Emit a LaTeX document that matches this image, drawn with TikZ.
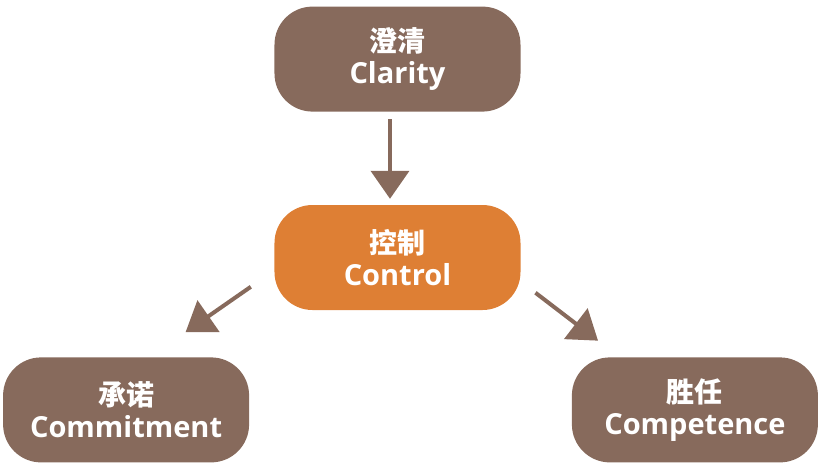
\documentclass[tikz,border=0pt]{standalone}
\usepackage{fontspec}
\setmainfont{Open Sans}
\newfontfamily\cjk{Noto Sans CJK SC}
\usepackage{tikz}
\usetikzlibrary{positioning,arrows.meta}
\definecolor{stagebrown}{RGB}{135,106,92}
\definecolor{coreorange}{RGB}{222,127,52}

\begin{document}
\begin{tikzpicture}[
stage/.style={rectangle, rounded corners=38pt, fill=stagebrown, text=white, minimum width=246pt, minimum height=105pt, inner sep=0pt, align=center, font=\bfseries\fontsize{29}{32}\selectfont},
core/.style={stage, fill=coreorange},
flow/.style={draw=stagebrown, line width=4pt, -{Triangle[length=28pt,width=38pt]}},
]
\useasboundingbox (-397.5pt,-211.5pt) rectangle (424.5pt,257.5pt);

\node[core] (control) {{\cjk\bfseries\fontsize{28}{32}\selectfont 控制}\\Control};
\node[stage] (clarity) [above=93pt of control] {{\cjk\bfseries\fontsize{28}{32}\selectfont 澄清}\\Clarity};
\node[stage] (commitment) [below left=47pt and 25pt of control] {{\cjk\bfseries\fontsize{28}{32}\selectfont 承诺}\\Commitment};
\node[stage] (competence) [below right=47pt and 51pt of control] {{\cjk\bfseries\fontsize{28}{32}\selectfont 胜任}\\Competence};

\draw[flow, shorten <=7.5pt, shorten >=6pt] ([xshift=-7.5pt]clarity.south) -- ([xshift=-7.5pt]control.north);
\draw[flow, shorten <=28.6pt, shorten >=43.9pt] (control.186.1) -- (commitment.66);
\draw[flow, shorten <=18.6pt, shorten >=27.2pt] (control.349.9) -- (competence.145.8);

\end{tikzpicture}
\end{document}
